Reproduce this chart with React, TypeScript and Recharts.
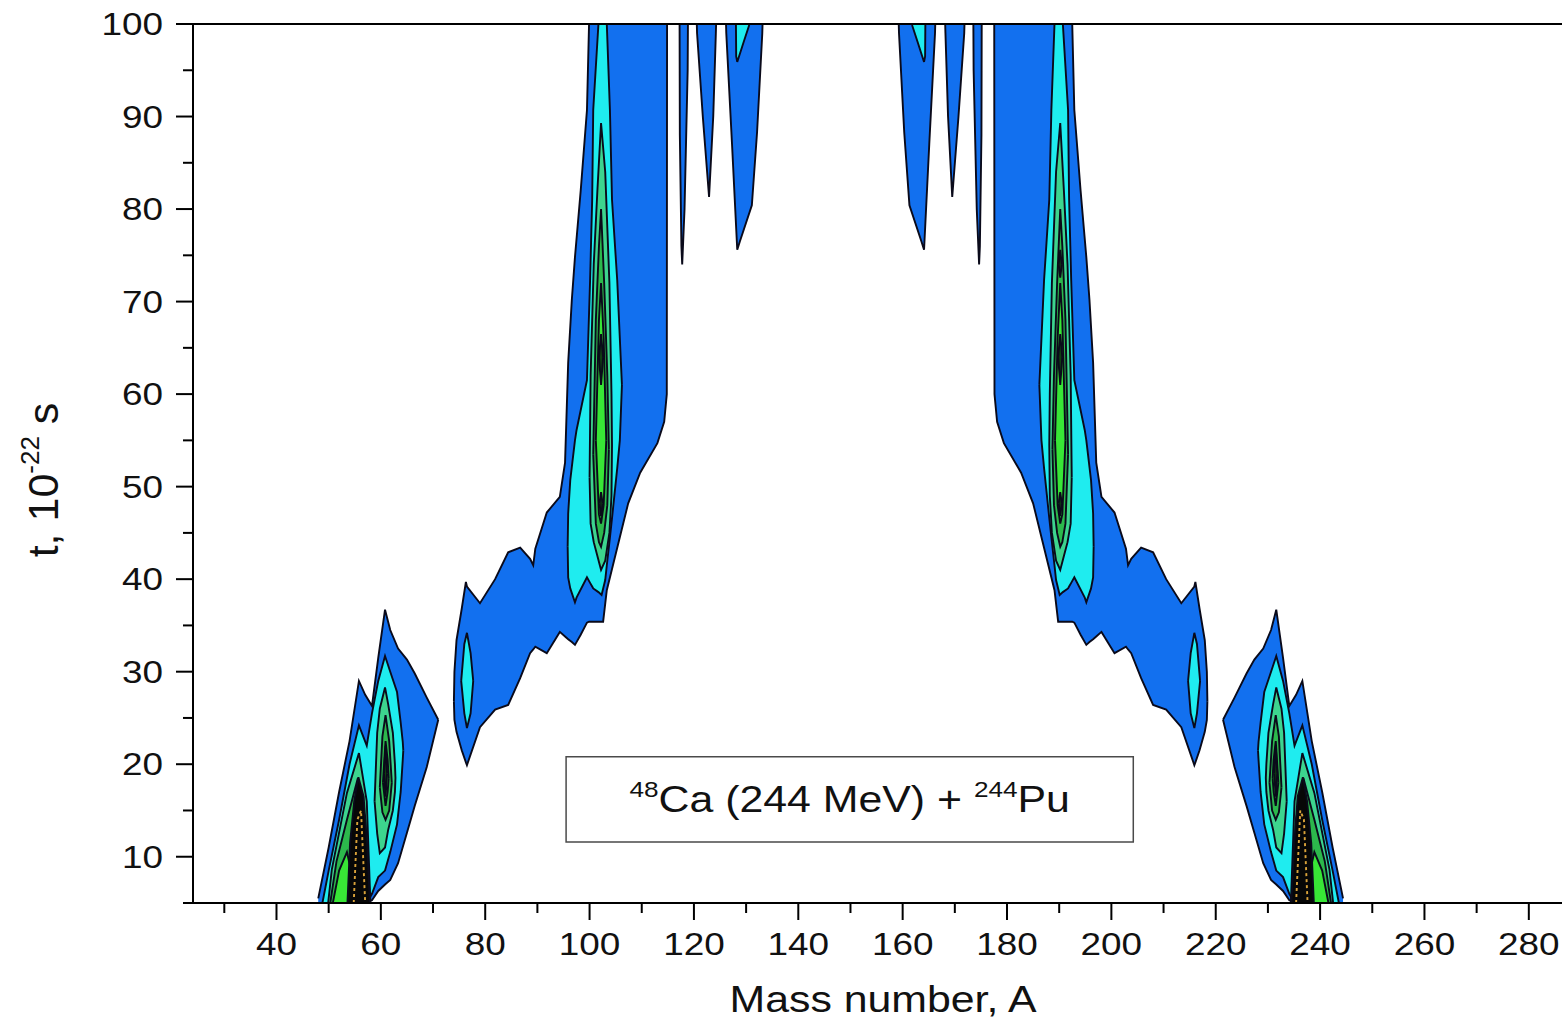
import {
  ComposedChart,
  Area,
  XAxis,
  YAxis,
  ReferenceArea,
  ReferenceLine,
} from "recharts";

// each band: [mass number A, lower t, upper t] of one contour level
type Band = [number, number, number];

// light fragment, A ~ 48-71
const blueLowL: Band[] = [
  [48, 5, 5.5], [50, 5, 11], [52, 5, 17], [54, 5, 22.5], [55.8, 5, 29], [57, 5, 27.5],
  [58.3, 5.3, 26.3], [59.5, 6.3, 31.5], [60.8, 7, 36.7], [61.8, 7.5, 34.5], [63.3, 9.3, 32.5],
  [65, 12.6, 31.3], [66.5, 15.5, 29.8], [68.8, 19.7, 27.2], [71, 24.8, 24.8],
];
const cyanLowL: Band[] = [
  [48.8, 5, 5], [50, 5, 8.5], [52, 5, 14], [54, 5, 20], [55.8, 5, 24.2], [57.3, 5, 22],
  [58.3, 6, 25.5], [59.5, 7.8, 29], [60.8, 8.5, 31.7], [61.8, 10.5, 30], [63.1, 13.5, 27.8],
  [63.8, 17, 24.5], [64.2, 20.5, 22.4], [64.3, 21.5, 21.5],
];
const mintLowLA: Band[] = [[49.9, 5, 5], [50.6, 5, 8.6], [53.5, 5, 16.9], [55.8, 5, 21.2], [57.3, 5, 16], [58, 5, 5]];
const mintLowLB: Band[] = [
  [58.8, 16, 16], [59.3, 12.5, 23.4], [59.8, 10.4, 26], [60.8, 11, 28.3], [61.4, 12.9, 26.5],
  [62.3, 15, 23.4], [62.7, 17, 20], [62.8, 18.5, 18.5],
];
const greenLowLA: Band[] = [[50.3, 5, 5], [51.5, 5, 9.5], [53.5, 5, 14], [55.6, 5, 18.5], [57, 5, 14], [57.8, 5, 5]];
const greenLowLB: Band[] = [[59.8, 17.5, 17.5], [60.3, 14.8, 23], [60.9, 14, 25.3], [61.6, 15, 22.5], [62.1, 18, 18]];
const brightLowLA: Band[] = [[50.8, 5, 5], [52, 5, 8.5], [53.5, 5, 10.5], [54.5, 5, 8], [55.2, 5, 5]];
const brightLowLB: Band[] = [[60.4, 18, 18], [60.9, 15.5, 22.5], [61.3, 17, 20.5], [61.5, 18.5, 18.5]];
const darkLowLB: Band[] = [[60.6, 19, 19], [60.9, 16.5, 22], [61.2, 19, 19]];
const coreLowL: Band[] = [[53.6, 5, 5], [54.1, 5, 11.5], [54.9, 5, 16], [55.7, 5, 18.6], [56.7, 5, 16.5], [57.4, 5, 11], [57.9, 5, 5]];
const hotLowL: Band[] = [[54.8, 5, 5], [55.5, 5, 14], [56.2, 5, 15], [57, 5, 5]];

// A ~ 74-115, the wing and the tower around A = 102
const blueMidL: Band[] = [
  [74, 26.8, 26.8], [74.1, 24.8, 30], [74.5, 23.5, 33.4], [75.5, 21.5, 36.8], [76.3, 20.2, 39.7],
  [76.5, 19.9, 39.2], [79, 24, 37.4], [81.9, 25.9, 40], [84.4, 26.4, 42.9], [86.7, 29.3, 43.4],
  [88.6, 32, 42.2], [89.2, 32.4, 41.5], [89.6, 32.7, 43.3], [91.8, 32, 47.2], [94.3, 34.3, 48.9],
  [95.3, 33.8, 52.6], [95.9, 33.5, 63.4], [96.6, 33.2, 70.2], [97.2, 32.9, 74.8], [98.3, 34, 82],
  [99.5, 35.3, 90.7], [99.9, 35.4, 100], [102.6, 35.4, 100], [103.3, 38.8, 100], [107.4, 48.2, 100],
  [109.7, 51.5, 100], [113, 54.7, 100], [114.3, 57, 100], [114.8, 60, 100], [114.85, 100, 100],
];
const cyanWingL: Band[] = [[75.4, 29, 29], [76, 25.5, 33], [76.5, 23.9, 34.2], [77.2, 25.5, 32], [77.7, 29, 29]];
const cyanMidL: Band[] = [
  [95.8, 43.5, 43.5], [95.9, 40.2, 47.1], [96.3, 39, 50.7], [97.2, 37.5, 55], [97.5, 38, 56.1],
  [99.5, 40.2, 61.5], [100.1, 39.6, 72.3], [100.5, 39.2, 81], [100.7, 39, 90.7], [101.7, 38.6, 100],
  [102.3, 38.3, 100], [103, 39.9, 100], [103.3, 41.5, 100], [103.9, 44.5, 90.7], [104.3, 46.6, 81],
  [105.3, 52, 72.3], [105.8, 55, 66], [106.2, 61, 61],
];
const mintMidL: Band[] = [
  [100, 51, 51], [100.2, 46, 62], [100.8, 44, 74], [101.5, 42.5, 82], [102.2, 41, 89.3],
  [103, 42, 84], [103.8, 45, 72], [104.2, 49, 60], [104.3, 54.5, 54.5],
];
const greenMidL: Band[] = [
  [100.7, 53.5, 53.5], [101.2, 46, 68], [101.8, 44, 76], [102.2, 43.5, 80], [102.8, 45, 72],
  [103.4, 48, 62], [103.7, 54, 54],
];
const brightMidL: Band[] = [[101.2, 55, 55], [101.8, 47, 68], [102.2, 46, 72], [102.7, 48, 66], [103.2, 55, 55]];
const darkMidL1: Band[] = [[101.8, 64, 64], [102.2, 61, 66.5], [102.6, 64, 64]];
const darkMidL2: Band[] = [[101.9, 48.2, 48.2], [102.2, 46.8, 49.4], [102.5, 48.2, 48.2]];

// narrow tongues hanging from the top
const spikeAL: Band[] = [[117.25, 100, 100], [117.3, 88, 100], [117.6, 76, 100], [117.75, 74, 100], [118.2, 80, 100], [118.8, 95, 100], [118.85, 100, 100]];
const spikeBL: Band[] = [[120.55, 100, 100], [120.6, 99, 100], [121.7, 90, 100], [122.9, 81.3, 100], [123.7, 90, 100], [124.2, 99, 100], [124.25, 100, 100]];
const spikeCL: Band[] = [
  [126.15, 100, 100], [126.2, 99, 100], [127.3, 87, 100], [128.3, 75.6, 100], [128.8, 76.5, 100],
  [131.1, 80.4, 100], [132.1, 88.3, 100], [133.1, 99, 100], [133.15, 100, 100],
];
const cyanSpikeCL: Band[] = [[128.05, 100, 100], [128.1, 96.5, 100], [128.3, 95.9, 100], [129.5, 98, 100], [130.6, 99.9, 100]];
const spikeCR: Band[] = [
  [159.25, 100, 100], [159.3, 99, 100], [160.3, 88.3, 100], [161.3, 80.4, 100], [163.6, 76.5, 100],
  [164.1, 75.6, 100], [165.1, 87, 100], [166.2, 99, 100], [166.25, 100, 100],
];
const cyanSpikeCR: Band[] = [[161.8, 99.9, 100], [162.9, 98, 100], [164.1, 95.9, 100], [164.3, 96.5, 100], [164.35, 100, 100]];
const spikeBR: Band[] = [[168.15, 100, 100], [168.2, 99, 100], [168.7, 90, 100], [169.5, 81.3, 100], [170.7, 90, 100], [171.8, 99, 100], [171.85, 100, 100]];
const spikeAR: Band[] = [[173.55, 100, 100], [173.6, 95, 100], [174.2, 80, 100], [174.65, 74, 100], [174.8, 76, 100], [175.1, 88, 100], [175.15, 100, 100]];

// A ~ 177-218, the tower around A = 190 and its wing
const blueMidR: Band[] = [
  [177.55, 100, 100], [177.6, 60, 100], [178.1, 57, 100], [179.4, 54.7, 100], [182.7, 51.5, 100],
  [185, 48.2, 100], [189.1, 38.8, 100], [189.8, 35.4, 100], [192.5, 35.4, 100], [192.9, 35.3, 90.7],
  [194.1, 34, 82], [195.2, 32.9, 74.8], [195.8, 33.2, 70.2], [196.5, 33.5, 63.4], [197.1, 33.8, 52.6],
  [198.1, 34.3, 48.9], [200.6, 32, 47.2], [202.8, 32.7, 43.3], [203.2, 32.4, 41.5], [203.8, 32, 42.2],
  [205.7, 29.3, 43.4], [208, 26.4, 42.9], [210.5, 25.9, 40], [213.4, 24, 37.4], [215.9, 19.9, 39.2],
  [216.1, 20.2, 39.7], [216.9, 21.5, 36.8], [217.9, 23.5, 33.4], [218.3, 24.8, 30], [218.4, 26.8, 26.8],
];
const cyanWingR: Band[] = [[214.7, 29, 29], [215.2, 25.5, 32], [215.9, 23.9, 34.2], [216.4, 25.5, 33], [217, 29, 29]];
const cyanMidR: Band[] = [
  [186.2, 61, 61], [186.6, 55, 66], [187.1, 52, 72.3], [188.1, 46.6, 81], [188.5, 44.5, 90.7],
  [189.1, 41.5, 100], [189.4, 39.9, 100], [190.1, 38.3, 100], [190.7, 38.6, 100], [191.7, 39, 90.7],
  [191.9, 39.2, 81], [192.3, 39.6, 72.3], [192.9, 40.2, 61.5], [194.9, 38, 56.1], [195.2, 37.5, 55],
  [196.1, 39, 50.7], [196.5, 40.2, 47.1], [196.6, 43.5, 43.5],
];
const mintMidR: Band[] = [
  [188.1, 54.5, 54.5], [188.2, 49, 60], [188.6, 45, 72], [189.4, 42, 84], [190.2, 41, 89.3],
  [190.9, 42.5, 82], [191.6, 44, 74], [192.2, 46, 62], [192.4, 51, 51],
];
const greenMidR: Band[] = [
  [188.7, 54, 54], [189, 48, 62], [189.6, 45, 72], [190.2, 43.5, 80], [190.6, 44, 76],
  [191.2, 46, 68], [191.7, 53.5, 53.5],
];
const brightMidR: Band[] = [[189.2, 55, 55], [189.7, 48, 66], [190.2, 46, 72], [190.6, 47, 68], [191.2, 55, 55]];
const darkMidR1: Band[] = [[189.8, 64, 64], [190.2, 61, 66.5], [190.6, 64, 64]];
const darkMidR2: Band[] = [[189.9, 48.2, 48.2], [190.2, 46.8, 49.4], [190.5, 48.2, 48.2]];
const darkMidR3: Band[] = [[189.9, 74, 74], [190.2, 72.6, 75.6], [190.5, 74, 74]];

// heavy fragment, A ~ 221-244
const blueLowR: Band[] = [
  [221.4, 24.8, 24.8], [223.6, 19.7, 27.2], [225.9, 15.5, 29.8], [227.4, 12.6, 31.3], [229.1, 9.3, 32.5],
  [230.6, 7.5, 34.5], [231.6, 7, 36.7], [232.9, 6.3, 31.5], [234.1, 5.3, 26.3], [235.4, 5, 27.5],
  [236.6, 5, 29], [238.4, 5, 22.5], [240.4, 5, 17], [242.4, 5, 11], [244.4, 5, 5.5],
];
const cyanLowR: Band[] = [
  [228.1, 21.5, 21.5], [228.2, 20.5, 22.4], [228.6, 17, 24.5], [229.3, 13.5, 27.8], [230.6, 10.5, 30],
  [231.6, 8.5, 31.7], [232.9, 7.8, 29], [234.1, 6, 25.5], [235.1, 5, 22], [236.6, 5, 24.2],
  [238.4, 5, 20], [240.4, 5, 14], [242.4, 5, 8.5], [243.6, 5, 5],
];
const mintLowRA: Band[] = [[234.4, 5, 5], [235.1, 5, 16], [236.6, 5, 21.2], [238.9, 5, 16.9], [241.8, 5, 8.6], [242.5, 5, 5]];
const mintLowRB: Band[] = [
  [229.6, 18.5, 18.5], [229.7, 17, 20], [230.1, 15, 23.4], [231, 12.9, 26.5], [231.6, 11, 28.3],
  [232.6, 10.4, 26], [233.1, 12.5, 23.4], [233.6, 16, 16],
];
const greenLowRA: Band[] = [[234.6, 5, 5], [235.4, 5, 14], [236.8, 5, 18.5], [238.9, 5, 14], [240.9, 5, 9.5], [242.1, 5, 5]];
const greenLowRB: Band[] = [[230.3, 18, 18], [230.8, 15, 22.5], [231.5, 14, 25.3], [232.1, 14.8, 23], [232.6, 17.5, 17.5]];
const brightLowRA: Band[] = [[237.2, 5, 5], [237.9, 5, 8], [238.9, 5, 10.5], [240.4, 5, 8.5], [241.6, 5, 5]];
const brightLowRB: Band[] = [[230.9, 18.5, 18.5], [231.1, 17, 20.5], [231.5, 15.5, 22.5], [232, 18, 18]];
const darkLowRB: Band[] = [[231.2, 19, 19], [231.5, 16.5, 22], [231.8, 19, 19]];
const coreLowR: Band[] = [[234.5, 5, 5], [235, 5, 11], [235.7, 5, 16.5], [236.7, 5, 18.6], [237.5, 5, 16], [238.3, 5, 11.5], [238.8, 5, 5]];
const hotLowR: Band[] = [[235.4, 5, 5], [236.2, 5, 15], [236.9, 5, 14], [237.6, 5, 5]];

const massTicks = [30, 40, 50, 60, 70, 80, 90, 100, 110, 120, 130, 140, 150, 160, 170, 180, 190, 200, 210, 220, 230, 240, 250, 260, 270, 280, 290];
const timeTicks = [5, 10, 15, 20, 25, 30, 35, 40, 45, 50, 55, 60, 65, 70, 75, 80, 85, 90, 95, 100];

const FONT = "'Liberation Sans', Arial, sans-serif";
const STRETCH = "scale(1.19 1)"; // the source figure is widened horizontally
const BLUE = "#1270ef";
const CYAN = "#1fecef";
const MINT = "#3dd48e";
const GREEN = "#2cb84c";
const BRIGHT = "#38e636";
const DARK = "#0f3f12";
const CORE = "#070707";

type Layer = { bands: Band[]; fill: string; stroke?: string; dash?: string };

const level = (fill: string, list: Band[][], stroke?: string, dash?: string): Layer[] =>
  list.map((bands) => ({ bands, fill, stroke, dash }));

// drawn from the outermost level inwards
const LAYERS: Layer[] = [
  ...level(BLUE, [blueLowL, blueMidL, spikeAL, spikeBL, spikeCL, spikeCR, spikeBR, spikeAR, blueMidR, blueLowR]),
  ...level(CYAN, [cyanLowL, cyanWingL, cyanMidL, cyanSpikeCL, cyanSpikeCR, cyanMidR, cyanWingR, cyanLowR]),
  ...level(MINT, [mintLowLA, mintLowLB, mintMidL, mintMidR, mintLowRB, mintLowRA]),
  ...level(GREEN, [greenLowLA, greenLowLB, greenMidL, greenMidR, greenLowRB, greenLowRA]),
  ...level(BRIGHT, [brightLowLA, brightLowLB, brightMidL, brightMidR, brightLowRB, brightLowRA]),
  ...level(DARK, [darkLowLB, darkMidL1, darkMidL2, darkMidR1, darkMidR2, darkMidR3, darkLowRB]),
  ...level(CORE, [coreLowL, coreLowR]),
  ...level(CORE, [hotLowL, hotLowR], "#d9a23a", "3 3"),
];

function MassTick({ x, y, payload }: any) {
  const major = payload.value % 20 === 0;
  const axisY = y - 30;
  return (
    <g>
      <line x1={x} x2={x} y1={axisY} y2={axisY + (major ? 17 : 10)} stroke="#000" strokeWidth={2} />
      {major && (
        <text transform={`translate(${x} ${y}) ${STRETCH}`} dy="0.71em" textAnchor="middle" fontSize={31} fontFamily={FONT} fill="#111">
          {payload.value}
        </text>
      )}
    </g>
  );
}

function TimeTick({ x, y, payload }: any) {
  const major = payload.value % 10 === 0;
  const axisX = x + 30;
  return (
    <g>
      <line x1={axisX - (major ? 17 : 10)} x2={axisX} y1={y} y2={y} stroke="#000" strokeWidth={2} />
      {major && (
        <text transform={`translate(${x} ${y}) ${STRETCH}`} dy="0.36em" textAnchor="end" fontSize={31} fontFamily={FONT} fill="#111">
          {payload.value}
        </text>
      )}
    </g>
  );
}

function MassTitle(props: any) {
  const vb = props.viewBox ?? { x: 193, y: 903, width: 1388, height: 120 };
  const cx = vb.x + vb.width / 2 - 4;
  const base = vb.y + vb.height - 11;
  return (
    <text transform={`translate(${cx} ${base}) ${STRETCH}`} textAnchor="middle" fontSize={36} fontFamily={FONT} fill="#111">
      Mass number, A
    </text>
  );
}

function TimeTitle() {
  return (
    <text x={58} y={480} transform="rotate(-90, 58, 480)" textAnchor="middle" fontSize={43} fontFamily={FONT} fill="#111">
      <tspan>{"t, 10"}</tspan>
      <tspan fontSize={26} dy={-19}>{"-22"}</tspan>
      <tspan dy={19}>{" s"}</tspan>
    </text>
  );
}

function ReactionLabel(props: any) {
  const vb = props.viewBox ?? { x: 566, y: 758, width: 567, height: 85 };
  const cx = vb.x + vb.width / 2;
  const cy = vb.y + vb.height / 2;
  return (
    <text transform={`translate(${cx} ${cy + 13}) ${STRETCH}`} textAnchor="middle" fontSize={36} fontFamily={FONT} fill="#111">
      <tspan fontSize={22} dy={-15}>48</tspan>
      <tspan dy={15}>{"Ca (244 MeV) + "}</tspan>
      <tspan fontSize={22} dy={-15}>244</tspan>
      <tspan dy={15}>Pu</tspan>
    </text>
  );
}

export default function App() {
  return (
    <div
      style={{
        position: "absolute",
        left: 0,
        top: 0,
        width: 1562,
        height: 1023,
        overflow: "hidden",
        background: "#fff",
        fontFamily: FONT,
      }}
    >
      <ComposedChart width={1600} height={1023} margin={{ top: 24, right: 19, bottom: 0, left: 0 }}>
        <XAxis
          dataKey="a"
          type="number"
          domain={[24, 290]}
          allowDataOverflow
          ticks={massTicks}
          interval={0}
          tickSize={18}
          tickMargin={12}
          tickLine={false}
          tick={<MassTick />}
          height={120}
          axisLine={{ stroke: "#000", strokeWidth: 2 }}
          label={<MassTitle />}
        />
        <YAxis
          type="number"
          domain={[5, 100]}
          allowDataOverflow
          ticks={timeTicks}
          interval={0}
          tickSize={17}
          tickMargin={13}
          tickLine={false}
          tick={<TimeTick />}
          width={193}
          axisLine={{ stroke: "#000", strokeWidth: 2 }}
          label={<TimeTitle />}
        />
        {LAYERS.map((layer, i) => (
          <Area
            key={`lvl-${i}`}
            data={layer.bands.map(([a, lo, hi]) => ({ a, t: [lo, hi] }))}
            dataKey="t"
            type="linear"
            fill={layer.fill}
            fillOpacity={1}
            stroke={layer.stroke ?? "#0a0a1a"}
            strokeWidth={1.9}
            strokeDasharray={layer.dash}
            dot={false}
            activeDot={false}
            isAnimationActive={false}
          />
        ))}
        <ReferenceLine y={100} stroke="#000" strokeWidth={2} />
        <ReferenceArea
          x1={95.5}
          x2={204.2}
          y1={11.6}
          y2={20.8}
          fill="#fff"
          fillOpacity={1}
          stroke="#4a4a4a"
          strokeWidth={1.5}
          label={<ReactionLabel />}
        />
      </ComposedChart>
    </div>
  );
}
